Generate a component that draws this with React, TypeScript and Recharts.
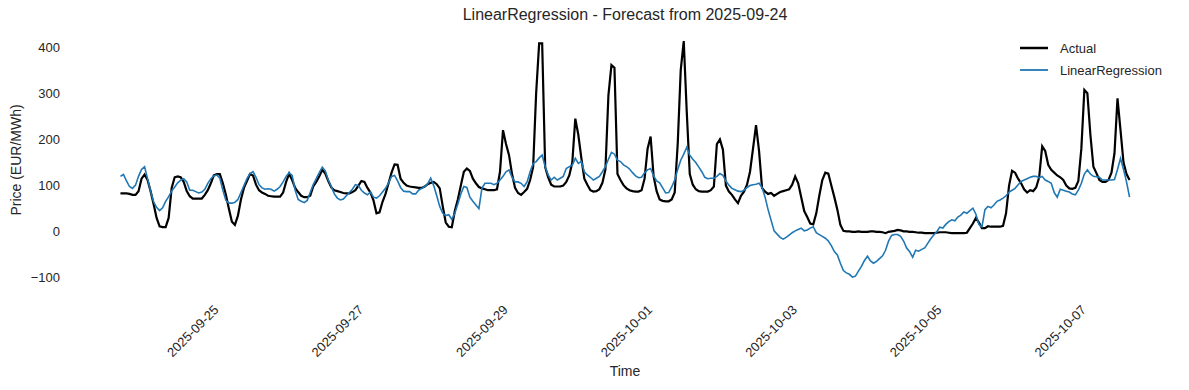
import { LineChart, Line, XAxis, YAxis, Legend } from 'recharts';

// hourly values, 2025-09-24 00:00 onwards (one row per day)
const actual = [
  83, 83, 83, 82, 80, 80, 88, 115, 124, 112, 88, 60, 30, 12, 10, 10, 30, 95, 118, 120, 118, 108, 88, 77,
  72, 72, 72, 72, 80, 90, 105, 122, 125, 125, 105, 80, 50, 22, 15, 35, 70, 95, 110, 125, 122, 102, 90, 85,
  82, 78, 77, 76, 76, 76, 85, 108, 126, 112, 95, 86, 78, 75, 75, 78, 98, 108, 120, 134, 126, 110, 96, 90,
  88, 86, 84, 83, 83, 86, 90, 100, 110, 108, 95, 85, 68, 40, 42, 65, 82, 105, 128, 146, 145, 115, 106, 100,
  98, 97, 96, 95, 95, 98, 103, 106, 108, 103, 94, 55, 20, 11, 10, 45, 70, 100, 130, 137, 132, 115, 105, 97,
  94, 92, 90, 90, 90, 92, 130, 220, 190, 166, 125, 95, 84, 80, 86, 93, 112, 140, 300, 408, 408, 140, 118, 102,
  98, 98, 98, 100, 108, 122, 150, 245, 210, 160, 115, 102, 90, 87, 88, 92, 106, 135, 296, 361, 355, 125, 112, 101,
  94, 90, 88, 87, 87, 90, 115, 180, 206, 120, 88, 70, 67, 66, 66, 70, 85, 190, 350, 413, 260, 125, 102, 92,
  88, 87, 87, 87, 90, 98, 190, 200, 178, 100, 87, 80, 70, 62, 78, 87, 102, 130, 180, 231, 175, 95, 87, 82,
  84, 78, 82, 86, 88, 90, 92, 102, 120, 105, 75, 45, 32, 18, 16, 40, 78, 112, 128, 126, 100, 75, 48, 15,
  2, 1, 1, 0, 0, 1, 0, 0, 0, 1, 1, 0, 0, -1, -3, 0, 1, 2, 4, 3, 1, 1, 0, 0,
  -1, -2, -2, -3, -3, -3, -3, -2, -1, -1, -1, -2, -3, -3, -3, -3, -3, -2, 8, 18, 30, 20, 8, 8,
  12, 11, 11, 11, 11, 13, 40, 100, 132, 128, 115, 105, 92, 85, 90, 88, 96, 118, 185, 175, 145, 134, 128, 122,
  118, 112, 100, 94, 93, 95, 110, 180, 307, 300, 210, 141, 127, 112, 108, 108, 112, 128, 170, 289, 220, 150, 125, 112,
];

const forecast = [
  120, 124, 110, 98, 94, 101, 120, 135, 141, 115, 88, 65, 53, 46, 52, 66, 76, 88, 97, 106, 112, 115, 108, 90,
  90, 87, 84, 86, 92, 105, 115, 121, 123, 116, 90, 68, 62, 62, 64, 70, 85, 100, 115, 126, 130, 118, 102, 95,
  92, 93, 92, 88, 92, 98, 108, 120, 128, 122, 90, 70, 66, 63, 68, 85, 102, 115, 128, 140, 132, 112, 98, 82,
  73, 69, 71, 78, 85, 92, 102, 100, 90, 84, 80, 86, 75, 73, 78, 86, 94, 106, 120, 122, 110, 96, 88, 87,
  87, 82, 82, 90, 94, 98, 104, 116, 100, 78, 55, 40, 35, 37, 27, 40, 60, 82, 98, 96, 75, 66, 58, 50,
  94, 105, 105, 105, 102, 105, 112, 120, 130, 134, 118, 108, 108, 105, 98, 108, 130, 148, 152, 160, 166, 141, 123, 112,
  118, 112, 116, 120, 137, 141, 144, 159, 148, 152, 130, 123, 118, 112, 116, 120, 130, 141, 157, 172, 168, 155, 152, 145,
  141, 136, 128, 121, 117, 118, 128, 134, 137, 121, 110, 106, 95, 84, 85, 97, 112, 135, 155, 168, 183, 166, 157, 150,
  140, 130, 118, 115, 116, 116, 120, 126, 122, 110, 101, 94, 91, 88, 87, 90, 96, 100, 102, 103, 105, 96, 75, 48,
  25, 2, -5, -12, -16, -12, -7, -2, 2, 5, 8, 2, 4, 8, 11, -2, -6, -10, -14, -20, -30, -43, -50, -68,
  -84, -89, -92, -98, -96, -85, -75, -62, -53, -63, -68, -64, -58, -52, -40, -20, -8, -6, -6, -10, -20, -35, -43, -55,
  -40, -42, -38, -35, -25, -15, -7, 0, 10, 8, 16, 22, 26, 24, 32, 36, 43, 40, 46, 51, 38, 16, 11, 48,
  55, 52, 58, 66, 69, 73, 78, 86, 90, 94, 102, 109, 112, 115, 118, 120, 120, 117, 120, 112, 109, 105, 85, 75,
  92, 90, 88, 86, 82, 80, 90, 105, 125, 134, 125, 120, 119, 118, 112, 112, 112, 112, 113, 135, 159, 135, 108, 75,
];

const tickHours = [24, 72, 120, 168, 216, 264, 312];
const tickLabels = ['2025-09-25', '2025-09-27', '2025-09-29', '2025-10-01', '2025-10-03', '2025-10-05', '2025-10-07'];
const yTicks = [-100, 0, 100, 200, 300, 400];

const data = actual.map((a, i) => ({ h: i, actual: a, forecast: forecast[i] }));

const FONT = '"Liberation Sans", Arial, sans-serif';
const TEXT = '#262626';
const W = 1189;
const H = 390;
const PLOT_LEFT = 70;
const PLOT_TOP = 29;
const PLOT_RIGHT = 1180;
const PLOT_BOTTOM = 290;

const last = data.length - 1;
const pad = last * 0.05;

const XTick = ({ x, payload }: any) => {
  const idx = tickHours.indexOf(payload.value);
  const cy = 331;
  return (
    <text
      x={x}
      y={cy}
      textAnchor="middle"
      dominantBaseline="central"
      transform={`rotate(-45, ${x}, ${cy})`}
      fontSize={13}
      fill={TEXT}
      fontFamily={FONT}
    >
      {tickLabels[idx]}
    </text>
  );
};

const YTick = ({ y, payload }: any) => {
  const v = payload.value;
  return (
    <text x={PLOT_LEFT - 10} y={y} textAnchor="end" dominantBaseline="central" fontSize={13} fill={TEXT} fontFamily={FONT}>
      {v < 0 ? `\u2212${-v}` : `${v}`}
    </text>
  );
};

const widths: Record<string, number> = { actual: 2.5, forecast: 1.8 };

const LegendBox = ({ payload }: any) => (
  <div style={{ fontFamily: FONT, fontSize: 13, color: TEXT }}>
    {(payload || []).map((p: any) => (
      <div key={p.dataKey} style={{ display: 'flex', alignItems: 'center', height: 22 }}>
        <svg width={28} height={6}>
          <line x1={0} x2={28} y1={3} y2={3} stroke={p.color} strokeWidth={widths[p.dataKey]} />
        </svg>
        <span style={{ marginLeft: 12, whiteSpace: 'nowrap' }}>{p.value}</span>
      </div>
    ))}
  </div>
);

export default function App() {
  return (
    <div style={{ position: 'absolute', left: 0, top: 0, width: W, height: H, background: '#fff', fontFamily: FONT }}>
      <div
        style={{
          position: 'absolute', left: PLOT_LEFT, top: 5, width: PLOT_RIGHT - PLOT_LEFT,
          textAlign: 'center', fontSize: 16, lineHeight: '20px', color: TEXT,
        }}
      >
        LinearRegression - Forecast from 2025-09-24
      </div>
      <div
        style={{
          position: 'absolute', left: 16, top: (PLOT_TOP + PLOT_BOTTOM) / 2,
          transform: 'translate(-50%, -50%) rotate(-90deg)', fontSize: 14, color: TEXT, whiteSpace: 'nowrap',
        }}
      >
        Price (EUR/MWh)
      </div>
      <div
        style={{
          position: 'absolute', left: PLOT_LEFT, top: 363, width: PLOT_RIGHT - PLOT_LEFT,
          textAlign: 'center', fontSize: 14, lineHeight: '16px', color: TEXT,
        }}
      >
        Time
      </div>
      <LineChart
        width={W}
        height={H}
        data={data}
        margin={{ top: PLOT_TOP, right: W - PLOT_RIGHT, bottom: 0, left: 0 }}
      >
        <XAxis
          dataKey="h"
          type="number"
          domain={[-pad, last + pad]}
          ticks={tickHours}
          tick={<XTick />}
          tickLine={false}
          axisLine={false}
          height={H - PLOT_BOTTOM}
          allowDataOverflow
        />
        <YAxis
          type="number"
          domain={[-126, 439]}
          ticks={yTicks}
          tick={<YTick />}
          tickLine={false}
          axisLine={false}
          width={PLOT_LEFT}
          allowDataOverflow
        />
        <Legend
          layout="vertical"
          align="center"
          verticalAlign="middle"
          content={<LegendBox />}
          wrapperStyle={{ position: 'absolute', top: 37, left: 1020, width: 165, right: 'auto', bottom: 'auto' }}
        />
        <Line
          type="linear"
          dataKey="actual"
          name="Actual"
          stroke="#000000"
          strokeWidth={2.2}
          dot={false}
          isAnimationActive={false}
        />
        <Line
          type="linear"
          dataKey="forecast"
          name="LinearRegression"
          stroke="#1f77b4"
          strokeWidth={1.6}
          dot={false}
          isAnimationActive={false}
        />
      </LineChart>
    </div>
  );
}
